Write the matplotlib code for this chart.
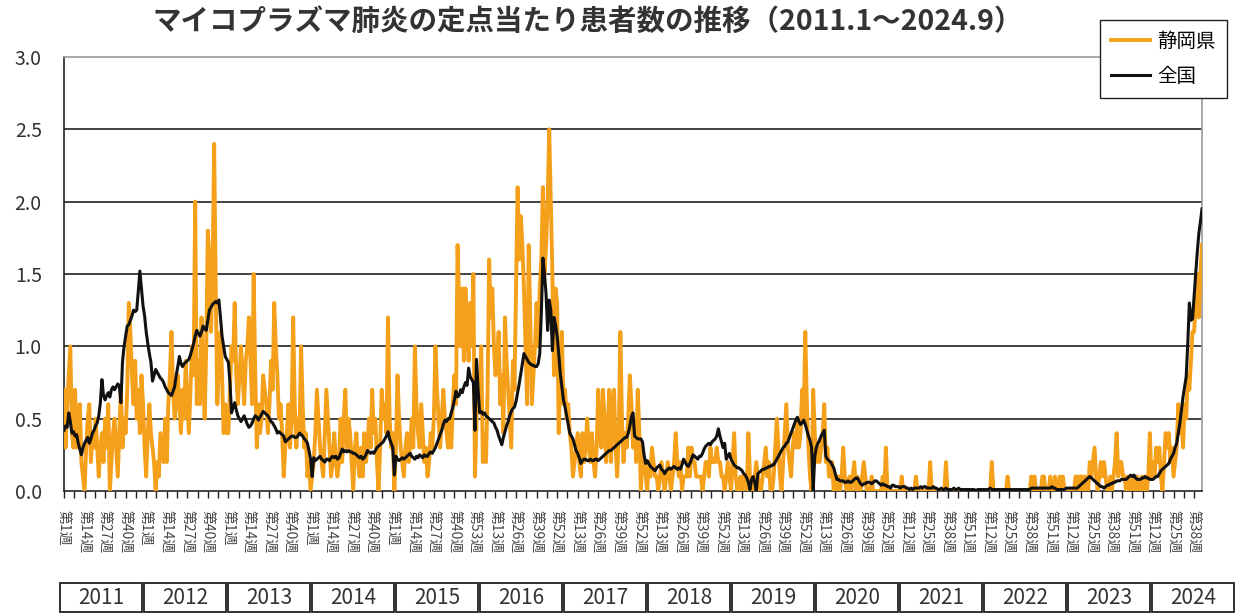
import numpy as np
import matplotlib
matplotlib.use("Agg")
import matplotlib.pyplot as plt
from matplotlib.patches import Rectangle
from matplotlib.ticker import MultipleLocator

plt.rcParams['font.family'] = ['Noto Sans CJK JP', 'DejaVu Sans']

title = "マイコプラズマ肺炎の定点当たり患者数の推移（2011.1～2024.9）"
series_names = ["静岡県", "全国"]
years = ["2011", "2012", "2013", "2014", "2015", "2016", "2017",
         "2018", "2019", "2020", "2021", "2022", "2023", "2024"]
y_ticks = [0.0, 0.5, 1.0, 1.5, 2.0, 2.5, 3.0]
week_labels = [
    "第1週", "第14週", "第27週", "第40週",
    "第1週", "第14週", "第27週", "第40週",
    "第1週", "第14週", "第27週", "第40週",
    "第1週", "第14週", "第27週", "第40週",
    "第1週", "第14週", "第27週", "第40週", "第53週",
    "第13週", "第26週", "第39週", "第52週",
    "第13週", "第26週", "第39週", "第52週",
    "第13週", "第26週", "第39週", "第52週",
    "第13週", "第26週", "第39週", "第52週",
    "第13週", "第26週", "第39週", "第52週",
    "第12週", "第25週", "第38週", "第51週",
    "第12週", "第25週", "第38週", "第51週",
    "第12週", "第25週", "第38週", "第51週",
    "第12週", "第25週", "第38週",
]

# ---- 静岡県 (weekly, per sentinel) ----
shizuoka_2011 = [0.7,0.3,0.6,0.8,1.0,0.4,0.3,0.7,0.3,0.5,
                 0.6,0.2,0.1,0.0,0.3,0.5,0.6,0.2,0.4,0.3,
                 0.5,0.3,0.1,0.3,0.4,0.2,0.5,0.3,0.6,0.0,
                 0.2,0.4,0.5,0.3,0.1,0.4,0.7,0.3,0.5,0.4,
                 0.7,1.3,1.1,0.8,0.6,0.9,0.5,0.7,0.4,0.8,
                 0.6,0.3]
shizuoka_2012 = [0.1,0.4,0.6,0.4,0.3,0.2,0.0,0.2,0.1,0.4,
                 0.3,0.2,0.5,0.2,0.6,0.8,1.1,0.7,0.5,0.6,
                 0.8,0.6,0.4,0.7,0.5,0.9,0.6,0.4,0.7,1.0,
                 0.8,2.0,0.6,0.9,0.6,1.2,0.8,0.5,1.0,1.8,
                 1.6,1.1,1.5,2.4,1.4,0.6,0.9,1.1,0.8,0.4,
                 0.6,0.4]
shizuoka_2013 = [0.4,0.7,1.0,0.9,1.3,0.8,0.6,0.8,1.0,0.8,
                 0.6,0.9,1.0,1.2,0.9,0.6,1.5,0.8,0.3,0.6,
                 0.4,0.5,0.8,0.7,0.6,0.4,0.6,0.9,0.7,1.3,
                 1.0,0.8,0.5,0.6,0.4,0.1,0.3,0.4,0.6,0.3,
                 0.5,1.2,0.6,0.3,0.5,0.4,1.0,0.6,0.3,0.4,
                 0.1,0.2]
shizuoka_2014 = [0.0,0.1,0.2,0.4,0.7,0.5,0.3,0.2,0.1,0.4,
                 0.7,0.5,0.3,0.1,0.2,0.4,0.2,0.1,0.2,0.5,
                 0.2,0.5,0.7,0.3,0.5,0.4,0.2,0.0,0.3,0.4,
                 0.2,0.1,0.3,0.1,0.4,0.2,0.3,0.5,0.3,0.7,
                 0.4,0.5,0.2,0.0,0.3,0.7,0.5,0.6,0.4,1.2,
                 0.5,0.3]
shizuoka_2015 = [0.4,0.0,0.3,0.8,0.5,0.3,0.2,0.1,0.3,0.4,
                 0.2,0.3,0.5,0.3,1.0,0.6,0.4,0.3,0.6,0.4,
                 0.2,0.3,0.1,0.2,0.4,0.3,0.5,1.0,0.7,0.5,
                 0.3,0.5,0.7,0.5,0.4,0.3,0.5,0.3,0.6,0.8,
                 0.6,1.7,1.3,1.0,1.4,0.9,1.4,1.1,0.9,1.3,
                 1.0,1.5,0.1]
shizuoka_2016 = [0.5,0.8,0.6,1.0,0.2,0.4,0.2,0.7,1.6,1.2,
                 1.4,1.0,0.8,0.9,1.1,0.6,0.8,0.4,1.2,0.9,
                 0.7,0.5,0.3,0.9,0.7,1.4,2.1,1.6,1.9,1.7,
                 1.4,1.0,0.6,1.7,1.2,0.6,0.8,1.0,1.3,1.0,
                 1.4,1.6,2.1,1.5,1.7,2.0,2.5,2.0,1.5,0.8,
                 1.4,1.3]
shizuoka_2017 = [0.4,0.8,1.1,0.6,0.7,0.5,0.6,0.4,0.3,0.1,
                 0.2,0.3,0.4,0.2,0.1,0.4,0.2,0.3,0.5,0.3,
                 0.2,0.4,0.2,0.1,0.3,0.7,0.4,0.3,0.7,0.5,
                 0.2,0.4,0.7,0.2,0.6,0.7,0.3,0.1,0.4,1.1,
                 0.5,0.2,0.4,0.3,0.5,0.8,0.6,0.3,0.5,0.2,
                 0.7,0.4]
shizuoka_2018 = [0.0,0.3,0.2,0.1,0.0,0.2,0.1,0.3,0.2,0.1,
                 0.1,0.0,0.1,0.2,0.1,0.0,0.1,0.2,0.1,0.0,
                 0.1,0.2,0.4,0.2,0.1,0.2,0.0,0.1,0.1,0.1,
                 0.3,0.1,0.3,0.2,0.2,0.1,0.1,0.1,0.1,0.0,
                 0.1,0.2,0.2,0.1,0.3,0.2,0.2,0.2,0.3,0.2,
                 0.2,0.1]
shizuoka_2019 = [0.1,0.0,0.1,0.2,0.1,0.0,0.2,0.4,0.1,0.0,
                 0.0,0.1,0.0,0.1,0.1,0.0,0.4,0.1,0.0,0.0,
                 0.1,0.2,0.1,0.0,0.0,0.1,0.2,0.3,0.1,0.2,
                 0.0,0.0,0.1,0.3,0.5,0.3,0.1,0.0,0.2,0.4,
                 0.6,0.3,0.2,0.1,0.3,0.4,0.3,0.5,0.3,0.4,
                 0.7,0.5]
shizuoka_2020 = [1.1,0.6,0.3,0.1,0.0,0.7,0.4,0.2,0.3,0.2,
                 0.3,0.4,0.6,0.2,0.3,0.1,0.1,0.2,0.0,0.1,
                 0.0,0.1,0.0,0.1,0.3,0.1,0.0,0.0,0.1,0.0,
                 0.1,0.2,0.0,0.1,0.0,0.0,0.1,0.2,0.1,0.0,
                 0.0,0.0,0.1,0.0,0.0,0.0,0.0,0.0,0.0,0.1,
                 0.0,0.3,0.0]
shizuoka_2021 = [0.0,0.0,0.0,0.0,0.0,0.0,0.0,0.0,0.1,0.0,
                 0.0,0.0,0.0,0.0,0.0,0.0,0.0,0.1,0.0,0.0,
                 0.0,0.0,0.0,0.0,0.0,0.0,0.2,0.0,0.0,0.0,
                 0.0,0.0,0.0,0.0,0.0,0.0,0.2,0.0,0.0,0.0,
                 0.0,0.0,0.0,0.0,0.0,0.0,0.0,0.0,0.0,0.0,
                 0.0,0.0]
shizuoka_2022 = [0.0,0.0,0.0,0.0,0.0,0.0,0.0,0.0,0.0,0.0,
                 0.0,0.0,0.0,0.2,0.0,0.0,0.0,0.0,0.0,0.0,
                 0.0,0.0,0.0,0.1,0.0,0.0,0.0,0.0,0.0,0.0,
                 0.0,0.0,0.0,0.0,0.0,0.0,0.0,0.0,0.1,0.0,
                 0.1,0.0,0.0,0.0,0.0,0.1,0.1,0.0,0.0,0.0,
                 0.1,0.0]
shizuoka_2023 = [0.0,0.1,0.0,0.0,0.1,0.0,0.1,0.0,0.0,0.0,
                 0.0,0.0,0.0,0.0,0.1,0.1,0.0,0.1,0.1,0.0,
                 0.1,0.0,0.0,0.2,0.1,0.2,0.3,0.1,0.0,0.1,
                 0.2,0.1,0.2,0.1,0.0,0.0,0.1,0.0,0.1,0.2,
                 0.4,0.1,0.2,0.2,0.1,0.1,0.0,0.1,0.0,0.0,
                 0.1,0.1]
shizuoka_2024 = [0.0,0.1,0.0,0.0,0.1,0.0,0.1,0.0,0.1,0.4,
                 0.1,0.2,0.1,0.3,0.2,0.3,0.1,0.0,0.2,0.4,
                 0.3,0.4,0.2,0.3,0.1,0.2,0.3,0.6,0.4,0.5,
                 0.3,0.6,0.5,0.8,0.7,0.9,1.1,1.1,1.3,1.5,
                 1.2,1.5,1.7]

# ---- 全国 (weekly, per sentinel) ----
national_2011 = [0.42,0.45,0.44,0.54,0.48,0.40,0.41,0.38,0.39,0.33,
                 0.29,0.25,0.30,0.33,0.35,0.37,0.33,0.36,0.40,0.42,
                 0.45,0.47,0.52,0.61,0.77,0.66,0.63,0.66,0.68,0.65,
                 0.70,0.72,0.70,0.72,0.74,0.73,0.61,0.89,1.00,1.07,
                 1.14,1.15,1.18,1.21,1.25,1.24,1.25,1.38,1.52,1.40,
                 1.28,1.21]
national_2012 = [1.10,1.02,0.95,0.89,0.76,0.80,0.84,0.82,0.80,0.78,
                 0.77,0.75,0.72,0.70,0.68,0.67,0.66,0.69,0.72,0.80,
                 0.86,0.93,0.88,0.86,0.88,0.89,0.90,0.91,0.94,0.98,
                 1.02,1.07,1.11,1.09,1.07,1.10,1.14,1.12,1.11,1.18,
                 1.25,1.27,1.29,1.30,1.31,1.30,1.32,1.20,1.07,1.00,
                 0.93,0.91]
national_2013 = [0.89,0.75,0.54,0.58,0.61,0.56,0.52,0.50,0.48,0.50,
                 0.52,0.49,0.46,0.44,0.45,0.47,0.50,0.52,0.51,0.49,
                 0.51,0.53,0.55,0.54,0.53,0.52,0.50,0.48,0.47,0.45,
                 0.43,0.40,0.41,0.40,0.39,0.38,0.34,0.35,0.36,0.37,
                 0.38,0.38,0.37,0.37,0.38,0.40,0.39,0.38,0.36,0.35,
                 0.33,0.28]
national_2014 = [0.22,0.10,0.23,0.21,0.22,0.23,0.24,0.22,0.21,0.20,
                 0.22,0.22,0.21,0.23,0.24,0.23,0.24,0.22,0.23,0.26,
                 0.29,0.27,0.28,0.27,0.28,0.27,0.27,0.26,0.26,0.25,
                 0.24,0.23,0.24,0.22,0.23,0.25,0.28,0.27,0.26,0.27,
                 0.26,0.28,0.30,0.31,0.32,0.33,0.34,0.36,0.38,0.41,
                 0.36,0.33]
national_2015 = [0.30,0.11,0.24,0.22,0.21,0.22,0.23,0.22,0.23,0.24,
                 0.25,0.26,0.24,0.23,0.22,0.24,0.23,0.25,0.24,0.23,
                 0.25,0.24,0.24,0.26,0.27,0.26,0.28,0.30,0.33,0.36,
                 0.39,0.42,0.46,0.49,0.48,0.50,0.50,0.54,0.58,0.63,
                 0.69,0.65,0.66,0.70,0.68,0.72,0.75,0.73,0.85,0.79,
                 0.77,0.75,0.42]
national_2016 = [0.91,0.70,0.54,0.55,0.53,0.54,0.52,0.51,0.50,0.49,
                 0.48,0.47,0.44,0.42,0.38,0.35,0.32,0.37,0.41,0.45,
                 0.48,0.52,0.55,0.57,0.58,0.62,0.68,0.74,0.81,0.88,
                 0.95,0.93,0.91,0.89,0.88,0.87,0.87,0.86,0.86,0.88,
                 0.95,1.23,1.61,1.50,1.36,1.11,1.32,1.25,0.97,1.20,
                 1.15,1.07]
national_2017 = [0.95,0.81,0.72,0.63,0.58,0.52,0.46,0.40,0.38,0.36,
                 0.32,0.28,0.26,0.23,0.19,0.21,0.22,0.22,0.21,0.21,
                 0.22,0.21,0.21,0.22,0.22,0.21,0.22,0.23,0.24,0.25,
                 0.26,0.27,0.28,0.28,0.29,0.30,0.31,0.32,0.33,0.34,
                 0.35,0.36,0.37,0.37,0.40,0.45,0.51,0.54,0.38,0.37,
                 0.36,0.36]
national_2018 = [0.36,0.34,0.25,0.19,0.21,0.19,0.17,0.16,0.15,0.14,
                 0.16,0.17,0.18,0.15,0.14,0.12,0.14,0.15,0.16,0.15,
                 0.16,0.17,0.16,0.15,0.16,0.15,0.18,0.22,0.20,0.18,
                 0.17,0.19,0.22,0.25,0.24,0.23,0.22,0.24,0.24,0.26,
                 0.29,0.31,0.32,0.33,0.32,0.34,0.35,0.36,0.38,0.43,
                 0.38,0.34]
national_2019 = [0.30,0.33,0.22,0.24,0.26,0.22,0.20,0.18,0.17,0.16,
                 0.16,0.15,0.14,0.12,0.11,0.09,0.06,0.01,0.08,0.10,
                 0.06,0.00,0.12,0.13,0.14,0.15,0.15,0.16,0.16,0.17,
                 0.17,0.18,0.18,0.20,0.22,0.24,0.26,0.28,0.30,0.31,
                 0.33,0.34,0.37,0.40,0.43,0.46,0.49,0.51,0.48,0.46,
                 0.47,0.49]
national_2020 = [0.46,0.42,0.38,0.35,0.30,0.00,0.24,0.30,0.33,0.35,
                 0.38,0.40,0.42,0.24,0.22,0.21,0.20,0.18,0.16,0.12,
                 0.08,0.08,0.07,0.07,0.07,0.06,0.06,0.07,0.06,0.06,
                 0.07,0.08,0.09,0.09,0.07,0.05,0.04,0.05,0.05,0.06,
                 0.06,0.06,0.05,0.06,0.07,0.07,0.06,0.05,0.04,0.05,
                 0.04,0.04,0.03]
national_2021 = [0.03,0.02,0.04,0.04,0.03,0.03,0.03,0.02,0.03,0.03,
                 0.03,0.02,0.02,0.01,0.02,0.01,0.02,0.02,0.02,0.02,
                 0.03,0.02,0.03,0.03,0.02,0.02,0.02,0.02,0.03,0.02,
                 0.02,0.01,0.01,0.02,0.01,0.01,0.02,0.01,0.01,0.01,
                 0.01,0.02,0.01,0.01,0.02,0.01,0.01,0.01,0.01,0.01,
                 0.01,0.01]
national_2022 = [0.01,0.01,0.01,0.00,0.01,0.01,0.01,0.01,0.01,0.01,
                 0.01,0.01,0.02,0.01,0.01,0.01,0.01,0.01,0.01,0.01,
                 0.01,0.01,0.01,0.01,0.01,0.01,0.01,0.01,0.01,0.01,
                 0.01,0.01,0.01,0.01,0.01,0.01,0.01,0.01,0.02,0.02,
                 0.02,0.02,0.02,0.02,0.02,0.02,0.02,0.02,0.02,0.02,
                 0.02,0.03]
national_2023 = [0.02,0.02,0.01,0.01,0.01,0.01,0.01,0.01,0.02,0.02,
                 0.02,0.02,0.02,0.02,0.02,0.02,0.03,0.04,0.05,0.06,
                 0.07,0.08,0.09,0.10,0.09,0.08,0.07,0.06,0.05,0.04,
                 0.03,0.03,0.02,0.03,0.04,0.04,0.05,0.05,0.06,0.06,
                 0.07,0.07,0.07,0.08,0.08,0.08,0.08,0.09,0.10,0.11,
                 0.10,0.11]
national_2024 = [0.09,0.08,0.08,0.08,0.09,0.09,0.10,0.09,0.09,0.08,
                 0.08,0.08,0.09,0.10,0.10,0.12,0.14,0.15,0.16,0.17,
                 0.18,0.19,0.22,0.24,0.26,0.30,0.33,0.40,0.47,0.56,
                 0.65,0.72,0.79,1.02,1.30,1.18,1.19,1.35,1.50,1.65,
                 1.78,1.86,1.95]

shizuoka = np.concatenate([shizuoka_2011, shizuoka_2012, shizuoka_2013, shizuoka_2014,
                           shizuoka_2015, shizuoka_2016, shizuoka_2017, shizuoka_2018,
                           shizuoka_2019, shizuoka_2020, shizuoka_2021, shizuoka_2022,
                           shizuoka_2023, shizuoka_2024])
national = np.concatenate([national_2011, national_2012, national_2013, national_2014,
                           national_2015, national_2016, national_2017, national_2018,
                           national_2019, national_2020, national_2021, national_2022,
                           national_2023, national_2024])
weeks = np.arange(len(national))

W, H = 1244, 614
fig = plt.figure(figsize=(W / 100, H / 100), dpi=100)
fig.patch.set_facecolor('white')

ax = fig.add_axes([64 / W, 123 / H, 1138 / W, 434 / H])
ax.plot(weeks, shizuoka, color='#F5A01A', lw=2.8, label=series_names[0], zorder=3)
ax.plot(weeks, national, color='#111111', lw=2.2, label=series_names[1], zorder=4)

ax.set_xlim(0, len(national) - 1)
ax.set_ylim(0, 3.0)
ax.set_yticks(y_ticks)
ax.set_yticklabels([f"{v:.1f}" for v in y_ticks], fontsize=14, color='#333333')
ax.tick_params(axis='y', length=0, pad=16)
for v in y_ticks[1:-1]:
    ax.axhline(v, color='#222222', lw=1.2, zorder=1)

label_pos = np.arange(len(week_labels)) * 13
ax.set_xticks(label_pos)
ax.set_xticklabels(week_labels, rotation=270, fontsize=10, color='#444444')
ax.xaxis.set_minor_locator(MultipleLocator(6.5))
ax.tick_params(axis='x', which='both', length=5, width=1.0, color='#222222',
               direction='out', pad=9)

for s in ['top', 'right']:
    ax.spines[s].set_color('#999999')
    ax.spines[s].set_linewidth(1.2)
for s in ['left', 'bottom']:
    ax.spines[s].set_color('#222222')
    ax.spines[s].set_linewidth(1.2)

leg = ax.legend(loc='upper left', bbox_to_anchor=(1100 / W, 1 - 20 / H),
                bbox_transform=fig.transFigure, frameon=True, fancybox=False,
                edgecolor='#222222', framealpha=1, fontsize=14, handlelength=2.0,
                handletextpad=0.4, borderpad=0.55, labelspacing=0.75,
                borderaxespad=0)
leg.get_frame().set_linewidth(1.0)
leg.set_zorder(10)

fig.text(588 / W, 1 - 22 / H, title, ha='center', va='center',
         fontsize=20.5, fontweight='bold', color='#333333')

# year boxes below the axis
pax = fig.add_axes([0, 0, 1, 1], zorder=-1)
pax.set_xlim(0, W)
pax.set_ylim(H, 0)
pax.axis('off')
for k, yr in enumerate(years):
    x0 = 59 + 84 * k
    pax.add_patch(Rectangle((x0 + 1, 583), 82, 29, fill=False,
                            edgecolor='#222222', lw=1.3))
    pax.text(x0 + 42, 598, yr, ha='center', va='center', fontsize=15,
             color='#333333')

fig.savefig('out.png', dpi=100)
